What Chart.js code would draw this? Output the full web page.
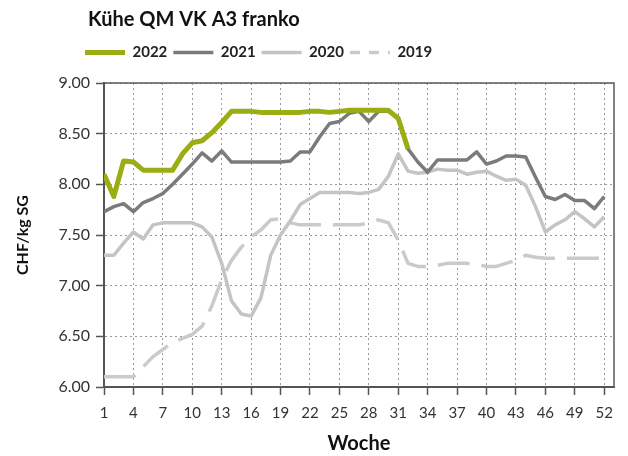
<!DOCTYPE html>
<html><head><meta charset="utf-8">
<script src="https://cdn.jsdelivr.net/npm/chart.js@4/dist/chart.umd.min.js"></script>
<style>html,body{margin:0;padding:0;background:#fff;}</style>
</head><body>
<canvas id="c" width="628" height="456"></canvas>
<script>
const weeks = [1,2,3,4,5,6,7,8,9,10,11,12,13,14,15,16,17,18,19,20,21,22,23,24,25,26,27,28,29,30,31,32,33,34,35,36,37,38,39,40,41,42,43,44,45,46,47,48,49,50,51,52];
const xTickValues = [1,4,7,10,13,16,19,22,25,28,31,34,37,40,43,46,49,52];
const yTickValues = [6,6.5,7,7.5,8,8.5,9];
const seriesNames = ['2022','2021','2020','2019'];
const chartTitle = 'Kühe QM VK A3 franko';
const xTitle = 'Woche';
const yTitle = 'CHF/kg SG';

const v2022 = [8.10,7.88,8.23,8.22,8.14,8.14,8.14,8.14,8.30,8.41,8.43,8.51,8.61,8.72,8.72,8.72,8.71,8.71,8.71,8.71,8.71,8.72,8.72,8.71,8.72,8.73,8.73,8.73,8.73,8.73,8.65,8.35];
const v2021 = [7.73,7.78,7.81,7.73,7.82,7.86,7.91,8.00,8.10,8.20,8.31,8.23,8.33,8.22,8.22,8.22,8.22,8.22,8.22,8.23,8.32,8.32,8.47,8.60,8.62,8.70,8.72,8.62,8.72,8.72,8.66,8.35,8.22,8.12,8.24,8.24,8.24,8.24,8.32,8.20,8.23,8.28,8.28,8.27,8.07,7.88,7.85,7.90,7.84,7.84,7.76,7.88];
const v2020 = [7.30,7.30,7.42,7.53,7.46,7.60,7.62,7.62,7.62,7.62,7.58,7.48,7.22,6.85,6.72,6.70,6.88,7.30,7.50,7.64,7.80,7.86,7.92,7.92,7.92,7.92,7.91,7.92,7.95,8.08,8.30,8.13,8.11,8.12,8.15,8.14,8.14,8.10,8.12,8.13,8.08,8.04,8.05,7.99,7.78,7.53,7.60,7.65,7.73,7.66,7.58,7.68];
const v2019 = [6.10,6.10,6.10,6.10,6.20,6.30,6.37,6.44,6.48,6.52,6.60,6.80,7.06,7.25,7.38,7.48,7.55,7.65,7.66,7.62,7.60,7.60,7.60,7.60,7.60,7.60,7.60,7.62,7.65,7.62,7.45,7.22,7.19,7.19,7.20,7.22,7.22,7.22,7.21,7.19,7.19,7.22,7.25,7.30,7.28,7.27,7.27,7.27,7.27,7.27,7.27,7.27];

const FONT = 'Lato, "Open Sans", sans-serif';
const TOP_SHIFT = 13;
const toPoints = vals => vals.map((v, i) => ({x: weeks[i], y: v}));

const framePlugin = {
  id: 'frame',
  beforeDatasetsDraw(chart) {
    const {ctx, chartArea: a} = chart;
    ctx.save();
    ctx.strokeStyle = '#5a5a5a';
    ctx.lineWidth = 1.5;
    ctx.beginPath();
    ctx.moveTo(a.left, a.top);
    ctx.lineTo(a.right, a.top);
    ctx.lineTo(a.right, a.bottom);
    ctx.stroke();
    ctx.restore();
  }
};
const shiftPlugin = {
  id: 'shiftHeader',
  afterLayout(chart) {
    const t = chart.titleBlock, l = chart.legend;
    if (t) { t.left += 88; t.right += 88; t.top -= TOP_SHIFT; t.bottom -= TOP_SHIFT; }
    if (l) { l.left += 79; l.right += 79; l.top -= TOP_SHIFT; l.bottom -= TOP_SHIFT; }
  }
};

new Chart(document.getElementById('c'), {
  type: 'line',
  data: {
    datasets: [
      {label: seriesNames[0], data: toPoints(v2022), borderColor: '#9cad14', borderWidth: 5},
      {label: seriesNames[1], data: toPoints(v2021), borderColor: '#7b7b7b', borderWidth: 3.5},
      {label: seriesNames[2], data: toPoints(v2020), borderColor: '#c4c4c4', borderWidth: 3.5},
      {label: seriesNames[3], data: toPoints(v2019), borderColor: '#cacaca', borderWidth: 3.5, borderDash: [32, 12]}
    ]
  },
  options: {
    responsive: false,
    animation: false,
    devicePixelRatio: 1,
    elements: {point: {radius: 0}, line: {tension: 0, borderJoinStyle: 'round', fill: false}},
    layout: {padding: {left: 0, right: 14, top: TOP_SHIFT, bottom: 0}},
    plugins: {
      tooltip: {enabled: false},
      title: {
        display: true, text: chartTitle, align: 'start',
        color: '#111', font: {family: FONT, size: 20, weight: 'bold'},
        padding: {top: 8, bottom: 7}
      },
      legend: {
        display: true, position: 'top', align: 'start',
        labels: {
          usePointStyle: true, pointStyle: 'line', pointStyleWidth: 40,
          color: '#222', font: {family: FONT, size: 15, weight: 'bold'}, padding: 6,
          generateLabels(chart) {
            const items = Chart.defaults.plugins.legend.labels.generateLabels(chart);
            items[3].lineDash = [10, 9];
            return items;
          }
        }
      }
    },
    scales: {
      x: {
        type: 'linear', min: 1, max: 53,
        afterBuildTicks: s => { s.ticks = xTickValues.map(v => ({value: v})); },
        afterFit: s => { s.height = 69; },
        ticks: {autoSkip: false, maxRotation: 0, color: '#333', font: {family: FONT, size: 15}, padding: 9},
        grid: {display: true, drawOnChartArea: true, color: '#999999', lineWidth: 1, tickLength: 8, tickColor: '#555', tickWidth: 1.5, tickBorderDash: []},
        border: {display: true, color: '#555', width: 2, dash: [2, 3]},
        title: {display: true, text: xTitle, color: '#111', font: {family: FONT, size: 20, weight: 'bold'}, padding: {top: 4, bottom: 0}}
      },
      y: {
        type: 'linear', min: 6, max: 9,
        afterBuildTicks: s => { s.ticks = yTickValues.map(v => ({value: v})); },
        afterFit: s => { s.width = 104; },
        ticks: {color: '#333', font: {family: FONT, size: 16}, padding: 6, callback: v => Number(v).toFixed(2)},
        grid: {display: true, drawOnChartArea: true, color: '#999999', lineWidth: 1, tickLength: 8, tickColor: '#555', tickWidth: 1.5, tickBorderDash: []},
        border: {display: true, color: '#555', width: 2, dash: [2, 3]},
        title: {display: true, text: yTitle, color: '#111', font: {family: FONT, size: 16, weight: 'bold'}, padding: {top: 13, bottom: 0}}
      }
    }
  },
  plugins: [framePlugin, shiftPlugin]
});
</script>
</body></html>
